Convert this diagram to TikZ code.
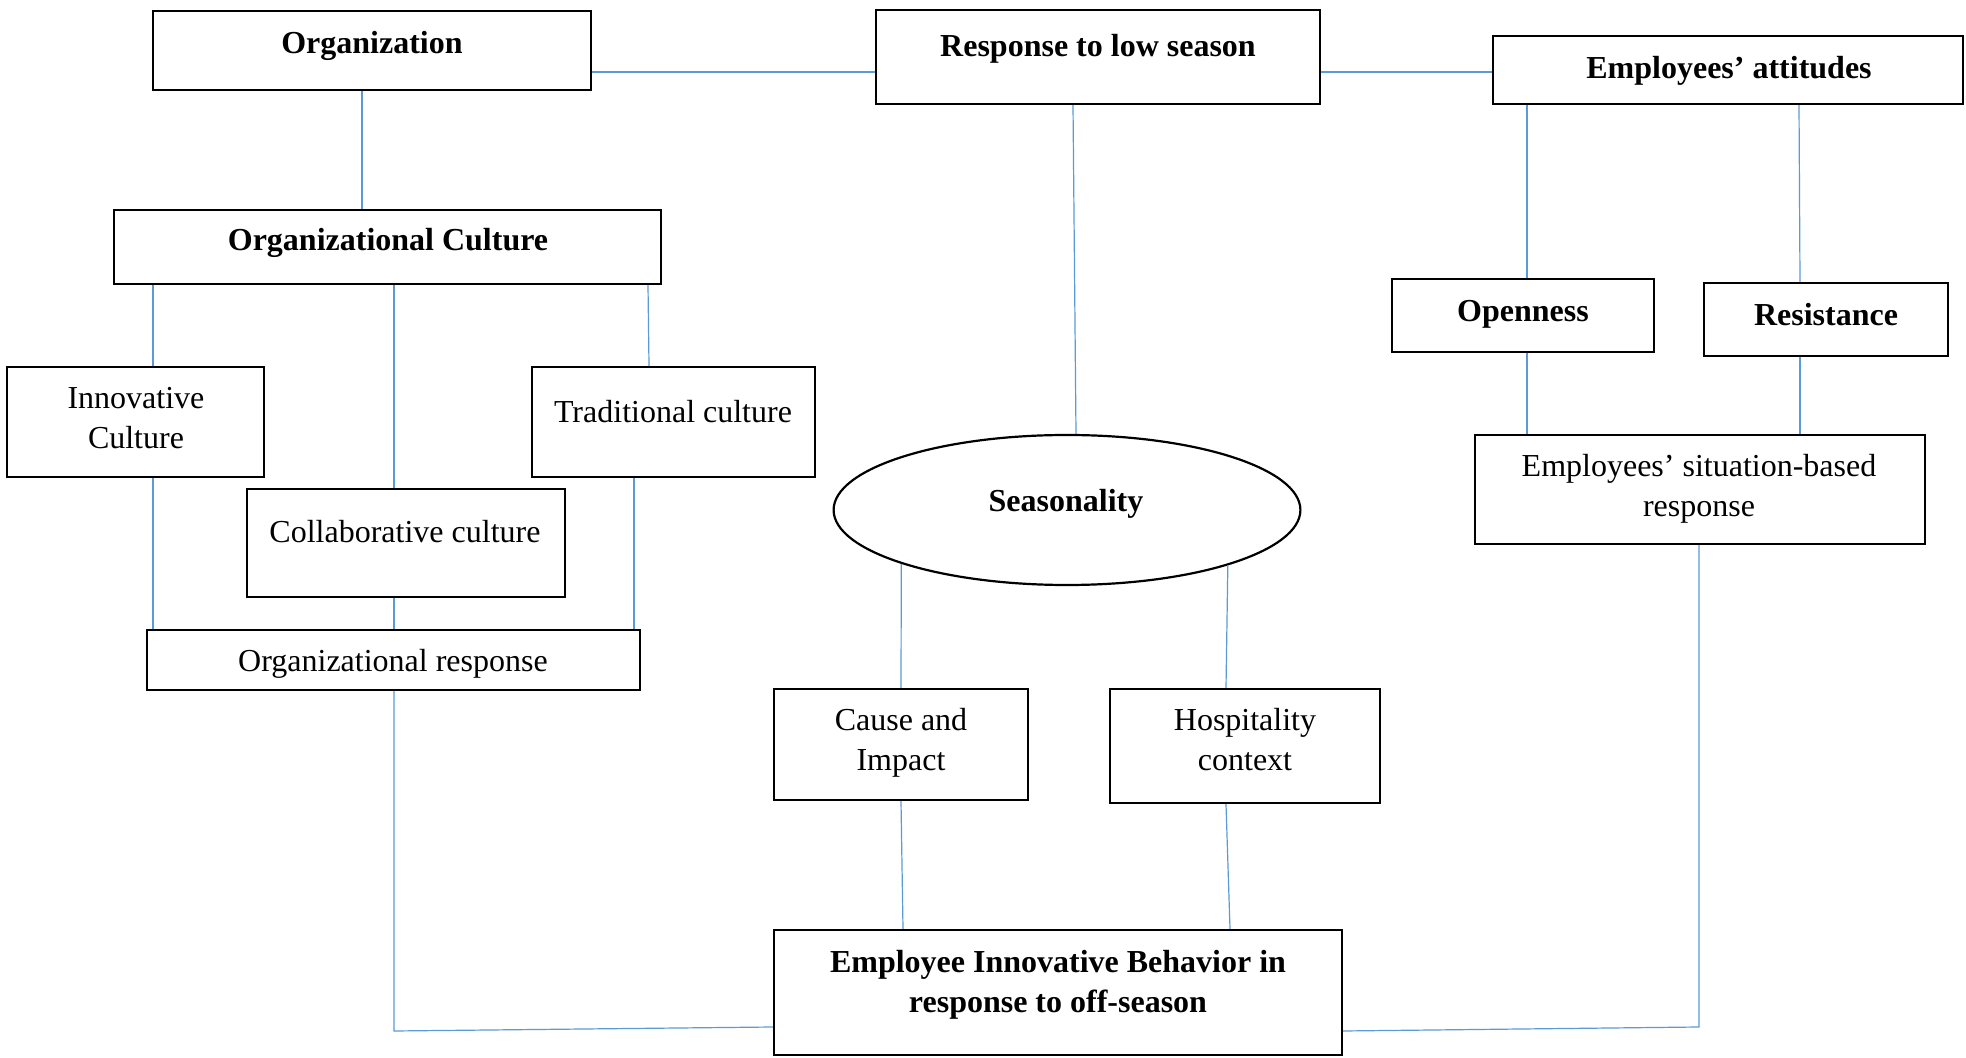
\documentclass[tikz,border=0pt]{standalone}
\usepackage{fontspec}
\setmainfont{Liberation Serif}
\usetikzlibrary{fit,shapes.geometric,calc}
\definecolor{linkblue}{RGB}{91,155,213}
\begin{document}
\begin{tikzpicture}[x=0.5pt,y=-0.5pt,
  box/.style={draw=black, line width=1.1pt, inner sep=0pt, rectangle},
  oval/.style={draw=black, line width=1.1pt, ellipse, inner sep=0pt},
  lbl/.style={font=\fontsize{16}{20}\selectfont, align=center, inner sep=0pt},
  lblb/.style={lbl, font=\fontsize{16}{20}\selectfont\bfseries},
  link/.style={draw=linkblue, line width=0.6pt}]
\useasboundingbox[fill=white] (0,0) rectangle (1966,1058);

% frames
\node[box, fit={(153,11) (591,90)}] (org) {};
\node[box, fit={(876,10) (1320,104)}] (resp) {};
\node[box, fit={(1493,36) (1963,104)}] (att) {};
\node[box, fit={(114,210) (661,284)}] (cult) {};
\node[box, fit={(7,367) (264,477)}] (innov) {};
\node[box, fit={(532,367) (815,477)}] (trad) {};
\node[box, fit={(247,489) (565,597)}] (collab) {};
\node[box, fit={(147,630) (640,690)}] (oresp) {};
\node[oval, minimum width=466.8*0.5pt, minimum height=150*0.5pt] (seas) at (1067,510) {};
\node[box, fit={(1392,279) (1654,352)}] (open) {};
\node[box, fit={(1704,283) (1948,356)}] (resist) {};
\node[box, fit={(1475,435) (1925,544)}] (sit) {};
\node[box, fit={(774,689) (1028,800)}] (cause) {};
\node[box, fit={(1110,689) (1380,803)}] (hosp) {};
\node[box, fit={(774,930) (1342,1055)}] (emp) {};

% texts
\node[lblb] (orgT) at (372,46) {Organization};
\node[lblb] (respT) at (1098,49) {Response to low season};
\node[lblb] (attT) at (1729,71) {Employees' attitudes};
\node[lblb] (cultT) at (388,243) {Organizational Culture};
\node[lbl] (innovT) at (136,418) {Innovative\\Culture};
\node[lbl] (tradT) at (673,412) {Traditional culture};
\node[lbl] (collabT) at (405,532) {Collaborative culture};
\node[lbl] (orespT) at (393,664) {Organizational response};
\node[lblb] (seasT) at (1066,504) {Seasonality};
\node[lblb] (openT) at (1523,314) {Openness};
\node[lblb] (resistT) at (1826,315) {Resistance};
\node[lbl] (sitT) at (1699,489) {Employees' situation-based\\response};
\node[lbl] (causeT) at (901,743) {Cause and\\Impact};
\node[lbl] (hospT) at (1245,740) {Hospitality\\context};
\node[lblb] (empT) at (1058,985) {Employee Innovative Behavior in\\response to off-season};

% connectors
\draw[link] (org.east |- 0,72) -- (resp.west |- 0,72);
\draw[link] (resp.east |- 0,72) -- (att.west |- 0,72);
\draw[link] (362,0 |- org.south) -- (362,0 |- cult.north);
\draw[link] (1073,0 |- resp.south) -- (1076,0 |- seas.north);
\draw[link] (1527,0 |- att.south) -- (1527,0 |- open.north);
\draw[link] (1799,0 |- att.south) -- (1800,0 |- resist.north);
\draw[link] (1527,0 |- open.south) -- (1527,0 |- sit.north);
\draw[link] (1800,0 |- resist.south) -- (1800,0 |- sit.north);
\draw[link] (153,0 |- cult.south) -- (153,0 |- innov.north);
\draw[link] (394,0 |- cult.south) -- (394,0 |- collab.north);
\draw[link] (648,0 |- cult.south) -- (649,0 |- trad.north);
\draw[link] (153,0 |- innov.south) -- (153,0 |- oresp.north);
\draw[link] (394,0 |- collab.south) -- (394,0 |- oresp.north);
\draw[link] (634,0 |- trad.south) -- (634,0 |- oresp.north);
\draw[link] (394,0 |- oresp.south) -- (394,1031) -- (emp.west |- 0,1027);
\draw[link] (seas.198) -- (901,0 |- cause.north);
\draw[link] (seas.341) -- (1226,0 |- hosp.north);
\draw[link] (901,0 |- cause.south) -- (903,0 |- emp.north);
\draw[link] (1226,0 |- hosp.south) -- (1230,0 |- emp.north);
\draw[link] (1699,0 |- sit.south) -- (1699,1027) -- (emp.east |- 0,1031);
\end{tikzpicture}
\end{document}
